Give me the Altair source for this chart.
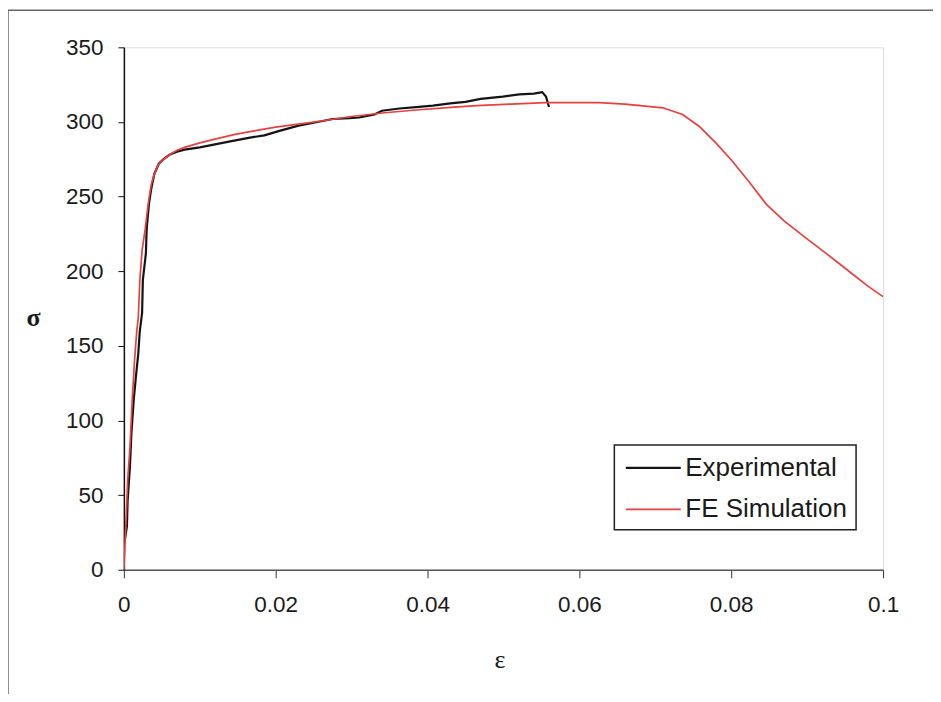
import altair as alt
import pandas as pd

# Experimental curve (strain, stress)
exp_strain = [0.00013, 0.0004, 0.0005, 0.0008, 0.001, 0.0013, 0.0016, 0.0019, 0.0021,
              0.0024, 0.0025, 0.0029, 0.003, 0.0033, 0.0036, 0.004, 0.0046, 0.0052,
              0.006, 0.007, 0.008, 0.01, 0.012, 0.014, 0.0166, 0.0185, 0.0205, 0.023,
              0.0255, 0.0275, 0.0297, 0.031, 0.033, 0.034, 0.0363, 0.0385, 0.0407,
              0.043, 0.045, 0.047, 0.0499, 0.0521, 0.054, 0.0551, 0.0556, 0.056]
exp_stress = [20, 29, 47, 69, 92, 114, 130, 145, 160,
              172, 194, 212, 228, 245, 255, 265, 272, 275,
              278, 280, 281.5, 283, 285, 287, 289.5, 291, 294, 297.5,
              300, 302, 302.5, 303, 305, 307.5, 309, 310, 311,
              312.5, 313.5, 315.5, 317, 318.5, 319, 320, 317, 310]

# FE simulation curve (strain, stress)
fe_strain = [0.0, 0.0001, 0.0003, 0.0005, 0.0008, 0.0011, 0.0014, 0.0017, 0.0019,
             0.0021, 0.0024, 0.0028, 0.0032, 0.0036, 0.004, 0.0045, 0.005, 0.006,
             0.007, 0.008, 0.01, 0.012, 0.0145, 0.0166, 0.02, 0.023, 0.0265, 0.0297,
             0.034, 0.0385, 0.0435, 0.0465, 0.051, 0.0555, 0.0626, 0.066, 0.068,
             0.071, 0.0736, 0.0758, 0.078, 0.0801, 0.0825, 0.0846, 0.087, 0.0899,
             0.0925, 0.0955, 0.098, 0.1]
fe_stress = [0, 11, 35, 60, 82, 114, 140, 160, 169,
             194, 214, 228, 245, 258, 265, 271, 274, 278,
             281, 283, 286, 288.5, 291.5, 293.5, 296.5, 298.5, 301, 303.5,
             306, 308, 310, 311, 312, 313, 313, 312, 311,
             309.5, 305, 297, 285.8, 274, 259, 245, 233.5, 222,
             212, 200, 190, 183]

series_names = ["Experimental", "FE Simulation"]
series_colors = ["#141414", "#e8403f"]
series_widths = [2.2, 1.7]

x_ticks = [0, 0.02, 0.04, 0.06, 0.08, 0.1]
y_ticks = [0, 50, 100, 150, 200, 250, 300, 350]

df = pd.concat([
    pd.DataFrame({"strain": exp_strain, "stress": exp_stress, "series": series_names[0], "order": range(len(exp_strain))}),
    pd.DataFrame({"strain": fe_strain, "stress": fe_stress, "series": series_names[1], "order": range(len(fe_strain))}),
])

lines = alt.Chart(df).mark_line(clip=True).encode(
    x=alt.X("strain:Q", scale=alt.Scale(domain=[0, 0.1], nice=False),
            axis=alt.Axis(values=x_ticks, format="~g", title="ε", grid=False, labelFlush=False,
                          tickSize=8, tickColor="#333", domainColor="#555", domainWidth=1.5,
                          labelPadding=16, labelFontSize=22.5, labelFont="Liberation Sans",
                          labelColor="#1a1a1a", titleFont="Liberation Serif", titleFontSize=26,
                          titleFontWeight="normal", titleColor="#1a1a1a",
                          titleX=376, titleY=90, titleAlign="center", titleBaseline="middle")),
    y=alt.Y("stress:Q", scale=alt.Scale(domain=[0, 350], nice=False),
            axis=alt.Axis(values=y_ticks, title="σ", grid=False, titleAngle=0, labelFlush=False,
                          tickSize=6, tickColor="#111", domainColor="#111", domainWidth=1.5,
                          labelPadding=15, labelFontSize=22.5, labelFont="Liberation Sans",
                          labelColor="#1a1a1a", titleFont="Liberation Serif", titleFontSize=26,
                          titleFontWeight="bold", titleColor="#1a1a1a",
                          titleX=-91, titleY=270, titleAlign="center", titleBaseline="middle")),
    color=alt.Color("series:N", scale=alt.Scale(domain=series_names, range=series_colors),
                    legend=alt.Legend(title=None, orient="none", legendX=501, legendY=392,
                                      symbolType="stroke", symbolSize=3025, symbolStrokeWidth=2,
                                      labelFontSize=26, labelFont="Liberation Sans",
                                      labelColor="#1a1a1a", labelOffset=3, padding=0,
                                      rowPadding=0, labelLimit=400)),
    strokeWidth=alt.StrokeWidth("series:N", scale=alt.Scale(domain=series_names, range=series_widths), legend=None),
    order="order:Q",
)

one = pd.DataFrame({"a": [0]})
frame = alt.Chart(one).mark_rect(filled=False, stroke="#666", strokeWidth=1.5, clip=False).encode(
    x=alt.value(-116), x2=alt.value(811), y=alt.value(-37), y2=alt.value(680)
)
legend_box = alt.Chart(one).mark_rect(fill="white", stroke="#222", strokeWidth=1.5, clip=False).encode(
    x=alt.value(491), x2=alt.value(733), y=alt.value(398), y2=alt.value(483)
)

chart = alt.layer(frame, legend_box, lines).properties(
    width=760, height=523, autosize="none",
    padding={"left": 116, "top": 39, "right": 50, "bottom": 124},
).configure_view(stroke="#7d8298", strokeWidth=1.5).configure(background="white")

chart.save("out.html", embed_options={"renderer": "svg", "actions": False})
